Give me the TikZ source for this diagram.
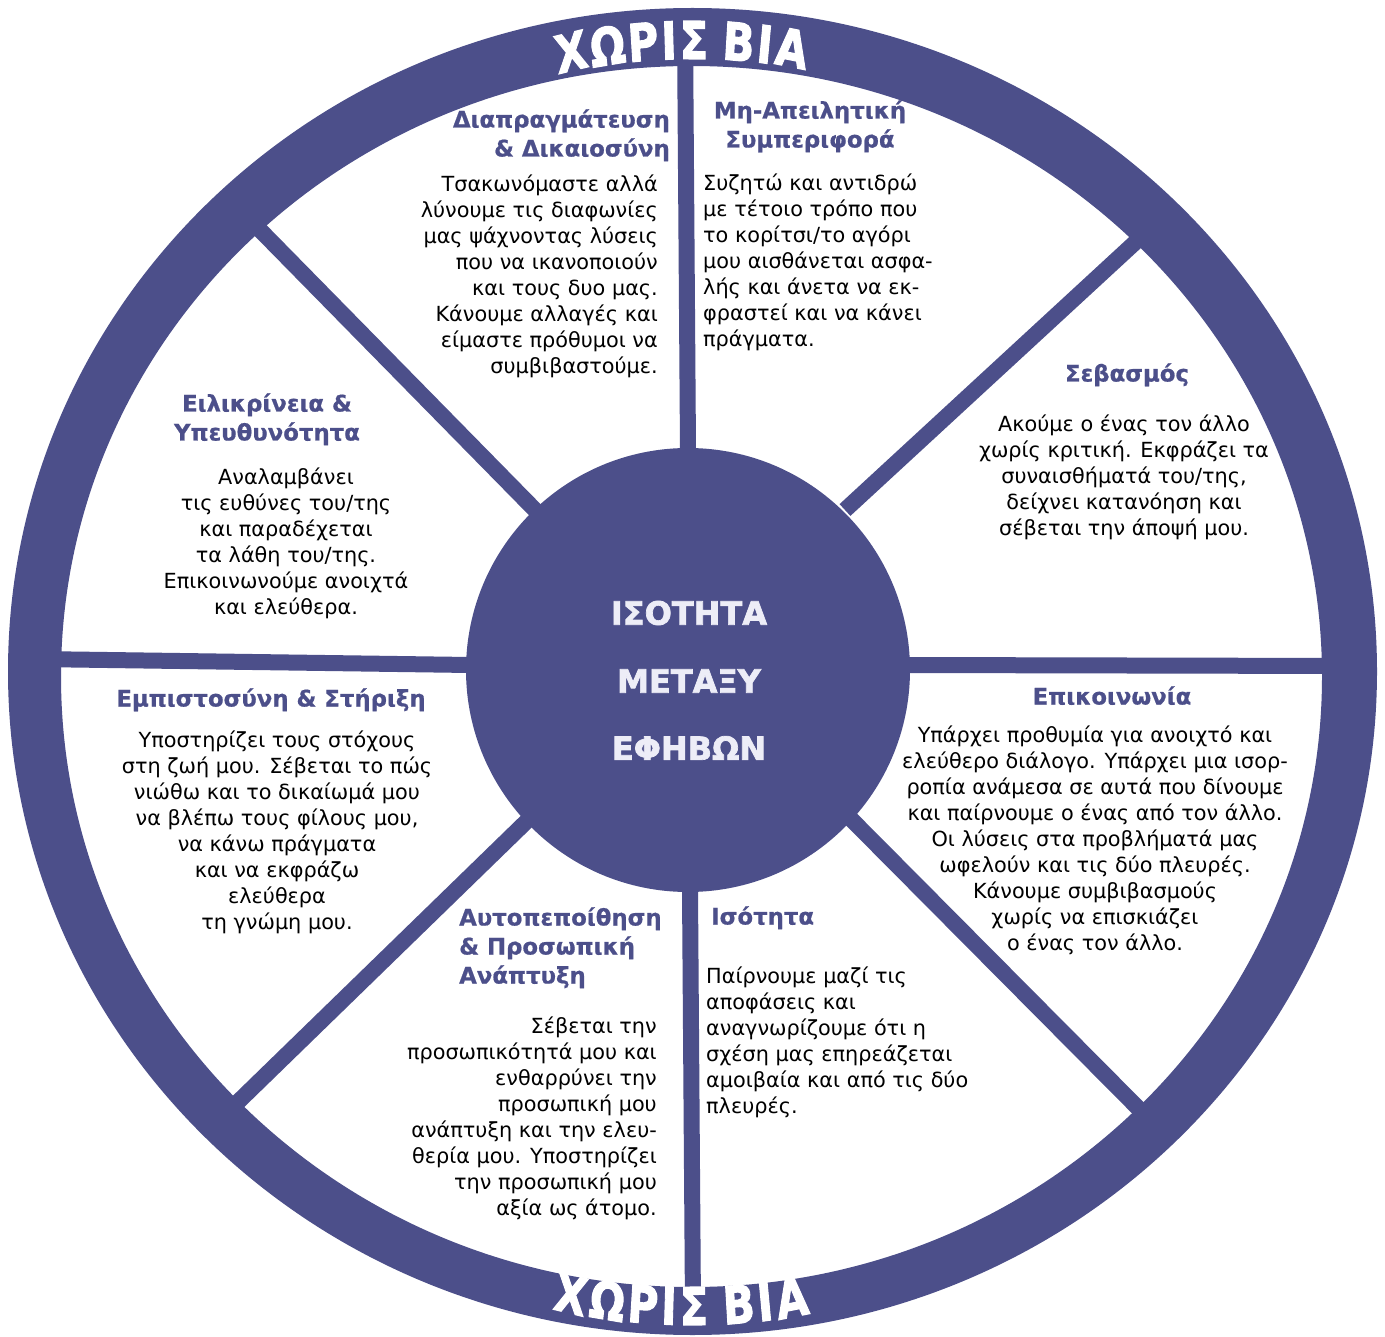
\documentclass[tikz,border=0pt]{standalone}
\usepackage{fontspec}
\setmainfont{DejaVu Sans}
\newfontfamily\heavyfont[BoldFeatures={FakeBold=2.2}]{DejaVu Sans}
\newfontfamily\titlefont[BoldFeatures={FakeBold=0.7}]{DejaVu Sans}
\usetikzlibrary{calc}
\definecolor{wheel}{RGB}{76,79,138}
\definecolor{hubtxt}{RGB}{237,237,247}
\begin{document}
\begin{tikzpicture}[x=1pt,y=-1pt,
  body/.style={font=\fontsize{20.8}{26}\selectfont, inner sep=0pt, text=black},
  ttl/.style={font=\titlefont\bfseries\fontsize{22.8}{29}\selectfont, inner sep=0pt, text=wheel},
  spoke/.style={draw=wheel, line width=16pt},
  rimletter/.style={font=\heavyfont\bfseries\fontsize{52}{52}\selectfont, text=white, inner sep=0pt, xscale=0.8},
  hub/.style={font=\heavyfont\bfseries\fontsize{32}{32}\selectfont, text=hubtxt, inner sep=0pt}
]
\useasboundingbox (0,0) rectangle (1385,1337);
\fill[white] (0,0) rectangle (1385,1337);

% spokes
\draw[spoke] (688,450) -- (685,30);
\draw[spoke] (690,890) -- (693,1310);
\draw[spoke] (470,665) -- (35,659);
\draw[spoke] (905,665) -- (1350,666);
\draw[spoke] (540,515) -- ($(540,515)!1.08!(262,232)$);
\draw[spoke] (845,510) -- ($(845,510)!1.08!(1140,238)$);
\draw[spoke] (530,818) -- ($(530,818)!1.08!(240,1100)$);
\draw[spoke] (850,818) -- ($(850,818)!1.08!(1140,1110)$);

% rim
\fill[wheel, even odd rule] (692.5,671.5) ellipse [x radius=684.5, y radius=663.5]
  (691.5,676.5) ellipse [x radius=630.5, y radius=610.5];

% hub
\fill[wheel] (688,670) circle [radius=222];
\node[hub] (h1) at (689,613) {ΙΣΟΤΗΤΑ};
\node[hub] (h2) at (689,681) {ΜΕΤΑΞΥ};
\node[hub] (h3) at (689,748) {ΕΦΗΒΩΝ};

% top rim text
\node[rimletter, rotate=11.0] (ta1) at (571,51.7) {Χ};
\node[rimletter, rotate=7.7]  (ta2) at (607.5,45.7) {Ω};
\node[rimletter, rotate=4.4]  (ta3) at (643,41.9) {Ρ};
\node[rimletter, rotate=2.1]  (ta4) at (669,40.4) {Ι};
\node[rimletter, rotate=-0.2] (ta5) at (694,40.0) {Σ};
\node[rimletter, rotate=-4.2] (ta6) at (738.7,41.7) {Β};
\node[rimletter, rotate=-6.6] (ta7) at (765,44.2) {Ι};
\node[rimletter, rotate=-9.1] (ta8) at (792,48.0) {Α};

% bottom rim text
\node[rimletter, rotate=-11.0] (ba1) at (571,1294.3) {Χ};
\node[rimletter, rotate=-7.7]  (ba2) at (607.5,1300.3) {Ω};
\node[rimletter, rotate=-4.4]  (ba3) at (643,1304.1) {Ρ};
\node[rimletter, rotate=-2.1]  (ba4) at (669,1305.6) {Ι};
\node[rimletter, rotate=0.2]   (ba5) at (694,1306) {Σ};
\node[rimletter, rotate=4.2]   (ba6) at (738.7,1304.3) {Β};
\node[rimletter, rotate=6.6]   (ba7) at (765,1301.8) {Ι};
\node[rimletter, rotate=9.1]   (ba8) at (792,1298) {Α};

% sector 1
\node[ttl, align=right, anchor=north east] (t1) at (670,107) {\strut Διαπραγμάτευση\\\& Δικαιοσύνη};
\node[body, align=right, anchor=north east] (b1) at (658,173) {\strut Τσακωνόμαστε αλλά\\
λύνουμε τις διαφωνίες\\
μας ψάχνοντας λύσεις\\
που να ικανοποιούν\\
και τους δυο μας.\\
Κάνουμε αλλαγές και\\
είμαστε πρόθυμοι να\\
συμβιβαστούμε.};

% sector 2
\node[ttl, align=center, anchor=north] (t2) at (810,98) {\strut Μη-Απειλητική\\Συμπεριφορά};
\node[body, align=left, anchor=north west] (b2) at (703,172) {\strut Συζητώ και αντιδρώ\\
με τέτοιο τρόπο που\\
το κορίτσι/το αγόρι\\
μου αισθάνεται ασφα-\\
λής και άνετα να εκ-\\
φραστεί και να κάνει\\
πράγματα.};

% sector 3
\node[ttl, align=center, anchor=north] (t3) at (1127,361) {\strut Σεβασμός};
\node[body, align=center, anchor=north] (b3) at (1124,413) {\strut Ακούμε ο ένας τον άλλο\\
χωρίς κριτική. Εκφράζει τα\\
συναισθήματά του/της,\\
δείχνει κατανόηση και\\
σέβεται την άποψή μου.};

% sector 4
\node[ttl, align=center, anchor=north] (t4) at (267,391) {\strut Ειλικρίνεια \&\\Υπευθυνότητα};
\node[body, align=center, anchor=north] (b4) at (286,466) {\strut Αναλαμβάνει\\
τις ευθύνες του/της\\
και παραδέχεται\\
τα λάθη του/της.\\
Επικοινωνούμε ανοιχτά\\
και ελεύθερα.};

% sector 5
\node[ttl, align=center, anchor=north] (t5) at (271,686) {\strut Εμπιστοσύνη \& Στήριξη};
\node[body, align=center, anchor=north] (b5) at (277,729) {\strut Υποστηρίζει τους στόχους\\
στη ζωή μου. Σέβεται το πώς\\
νιώθω και το δικαίωμά μου\\
να βλέπω τους φίλους μου,\\
να κάνω πράγματα\\
και να εκφράζω\\
ελεύθερα\\
τη γνώμη μου.};

% sector 6
\node[ttl, align=center, anchor=north] (t6) at (1112,684) {\strut Επικοινωνία};
\node[body, align=center, anchor=north] (b6) at (1095,724) {\strut Υπάρχει προθυμία για ανοιχτό και\\
ελεύθερο διάλογο. Υπάρχει μια ισορ-\\
ροπία ανάμεσα σε αυτά που δίνουμε\\
και παίρνουμε ο ένας από τον άλλο.\\
Οι λύσεις στα προβλήματά μας\\
ωφελούν και τις δύο πλευρές.\\
Κάνουμε συμβιβασμούς\\
χωρίς να επισκιάζει\\
ο ένας τον άλλο.};

% sector 7
\node[ttl, align=left, anchor=north west] (t7) at (459,905) {\strut Αυτοπεποίθηση\\\& Προσωπική\\Ανάπτυξη};
\node[body, align=right, anchor=north east] (b7) at (657,1015) {\strut Σέβεται την\\
προσωπικότητά μου και\\
ενθαρρύνει την\\
προσωπική μου\\
ανάπτυξη και την ελευ-\\
θερία μου. Υποστηρίζει\\
την προσωπική μου\\
αξία ως άτομο.};

% sector 8
\node[ttl, align=left, anchor=north west] (t8) at (711,904) {\strut Ισότητα};
\node[body, align=left, anchor=north west] (b8) at (706,965) {\strut Παίρνουμε μαζί τις\\
αποφάσεις και\\
αναγνωρίζουμε ότι η\\
σχέση μας επηρεάζεται\\
αμοιβαία και από τις δύο\\
πλευρές.};
\end{tikzpicture}
\end{document}
